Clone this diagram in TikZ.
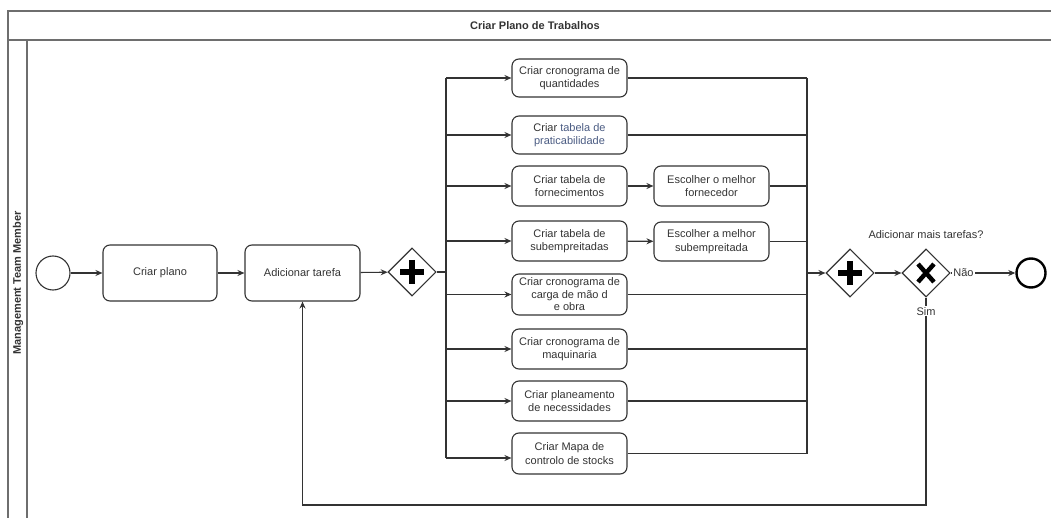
\documentclass[tikz,border=0pt]{standalone}
\usepackage{fontspec}
\setmainfont{Liberation Sans}
\usetikzlibrary{arrows.meta,shapes.geometric}
\definecolor{ink}{HTML}{333333}
\definecolor{framegray}{HTML}{6E6E6E}
\definecolor{linkblue}{HTML}{4A5B82}

\begin{document}
\begin{tikzpicture}[x=1pt,y=-1pt,
  font=\fontsize{11}{13.5}\selectfont,
  task/.style={draw=ink, line width=1.1pt, rounded corners=7pt, minimum width=115pt,
               align=center, text=ink, inner sep=1pt},
  gate/.style={draw=ink, line width=1.1pt, diamond, minimum width=48pt, minimum height=48pt,
               inner sep=0pt},
  flow/.style={draw=ink, line width=1.1pt},
  arr/.style={flow, -{Stealth[length=7pt,width=6pt]}},
  lab/.style={text=ink, inner sep=1pt, fill=white},
  pool/.style={draw=framegray, line width=1.2pt}
]
\useasboundingbox (0,0) rectangle (1051,518);

% pool and lane frame
\draw[pool] (1051,11) -- (8,11) -- (8,518);
\draw[pool] (8,40) -- (1051,40);
\draw[pool] (27,40) -- (27,518);
\node[font=\fontsize{11}{13}\selectfont\bfseries, text=ink] (title) at (535,26) {Criar Plano de Trabalhos};
\node[font=\fontsize{11}{13}\selectfont\bfseries, text=ink, rotate=90] (lane) at (18,283) {Management Team Member};

% main sequence
\node[draw=ink, line width=1.1pt, circle, minimum size=34pt, inner sep=0pt] (start) at (53,273) {};
\node[task, minimum height=56pt, minimum width=114pt] (plano) at (160,273) {Criar plano};
\node[task, minimum height=56pt] (adic) at (302.5,273) {Adicionar tarefa};
\node[gate] (g1) at (412,272) {};
\draw[line width=6.5pt, black] (400,272) -- (424,272) (412,260) -- (412,284);

% parallel tasks
\node[task, minimum height=38pt] (t1) at (569.5,78) {Criar cronograma de\\quantidades};
\node[task, minimum height=38pt] (t2) at (569.5,135) {Criar {\color{linkblue}tabela de}\\{\color{linkblue}praticabilidade}};
\node[task, minimum height=40pt] (t3) at (569.5,186) {Criar tabela de\\fornecimentos};
\node[task, minimum height=40pt] (t4) at (569.5,241) {Criar tabela de\\subempreitadas};
\node[task, minimum height=41pt, font=\fontsize{11}{12.5}\selectfont] (t5) at (569.5,294.5) {Criar cronograma de\\carga de mão d\\e obra};
\node[task, minimum height=40pt] (t6) at (569.5,349) {Criar cronograma de\\maquinaria};
\node[task, minimum height=40pt] (t7) at (569.5,401) {Criar planeamento\\de necessidades};
\node[task, minimum height=41pt] (t8) at (569.5,453.5) {Criar Mapa de\\controlo de stocks};
\node[task, minimum height=40pt] (e1) at (711.5,186) {Escolher o melhor\\fornecedor};
\node[task, minimum height=39pt] (e2) at (711.5,241.5) {Escolher a melhor\\subempreitada};

% merge and decision
\node[gate] (g2) at (850,273) {};
\draw[line width=6.5pt, black] (838,273) -- (862,273) (850,261) -- (850,285);
\node[gate] (g3) at (926,273) {};
\draw[line width=4.5pt, black] (918,264) -- (934,282) (918,282) -- (934,264);
\node[text=ink] (q) at (926,235) {Adicionar mais tarefas?};
\node[draw=black, line width=2.4pt, circle, minimum size=29pt, inner sep=0pt] (end) at (1031,273) {};

% split / merge rails
\coordinate (sTop) at (446,78);
\coordinate (sBot) at (446,458);
\coordinate (mTop) at (807,78);
\coordinate (mBot) at (807,453.5);
\coordinate (sIn) at (446,272);
\coordinate (mOut) at (807,273);

% sequence flows
\draw[arr] (start) -- (plano);
\draw[arr] (plano) -- (adic);
\draw[arr] (adic) -- (g1);
\draw[flow] (g1.east) -- (sIn);
\draw[flow] (sTop) -- (sBot);
\foreach \t in {t1,t2,t3,t4,t5,t6,t7}
  \draw[arr] (sTop |- \t.west) -- (\t.west);
\draw[arr] (sBot) -- (t8.west |- sBot);
\draw[arr] (t3) -- (e1);
\draw[arr] (t4) -- (e2);
\foreach \t in {t1,t2,e1,e2,t5,t6,t7,t8}
  \draw[flow] (\t.east) -- (mTop |- \t.east);
\draw[flow] (mTop) -- (mBot);
\draw[arr] (mOut) -- (g2.west);
\draw[arr] (g2) -- (g3);
\draw[arr] (g3.east) -- node[lab, pos=0.2] (no) {Não} (end);
\coordinate (loopR) at (926,505);
\coordinate (loopL) at (302.5,505);
\draw[arr] (g3.south) -- node[lab, pos=0.04, anchor=north] (yes) {Sim} (loopR) -- (loopL) -- (adic.south);
\end{tikzpicture}
\end{document}
